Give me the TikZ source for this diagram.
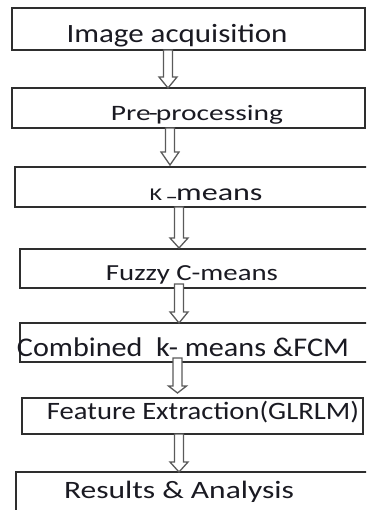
\documentclass[tikz,border=0pt]{standalone}
\usepackage{fontspec}
\usepackage{graphicx}
\setmainfont{Carlito}
\usetikzlibrary{calc,fit}
\definecolor{txt}{HTML}{1A1A22}
\definecolor{boxline}{HTML}{2E2E2E}
\definecolor{arrline}{HTML}{5A5A5A}
\tikzset{
  stagebox/.style={draw=boxline, line width=1.1pt, fill=white, inner sep=0pt, outer sep=0pt},
  stagetext/.style={anchor=base, inner sep=0pt, text=txt},
  blockarrow/.style={draw=arrline, line width=1.3pt, fill=white, line join=miter}
}
% #1 x, #2 top, #3 head start, #4 tip
\newcommand{\blockarr}[4]{%
  \draw[blockarrow] (#1-4.5,#2) -- (#1+4.5,#2) -- (#1+4.5,#3) -- (#1+9,#3) -- (#1,#4)
     -- (#1-9,#3) -- (#1-4.5,#3) -- cycle;}
\newcommand{\fitw}[3]{\resizebox{#2pt}{\height}{\fontsize{#1}{#1}\selectfont #3}}
\begin{document}
\begin{tikzpicture}[x=1pt,y=-1pt]
\useasboundingbox (0,0) rectangle (366,510);
\clip (0,0) rectangle (366,510);
\fill[white] (0,0) rectangle (366,510);
% boxes
\node[stagebox, fit={(12,8) (365,50)}] (b1) {};
\node[stagebox, fit={(12,88) (365,128)}] (b2) {};
\node[stagebox, fit={(15,167) (372,207)}] (b3) {};
\node[stagebox, fit={(20,249) (372,288)}] (b4) {};
\node[stagebox, fit={(20,323) (372,362)}] (b5) {};
\node[stagebox, fit={(22,398) (363,434)}] (b6) {};
\node[stagebox, fit={(16,472) (372,516)}] (b7) {};
% arrows between boxes
\blockarr{168}{50}{77}{88}
\blockarr{170}{128}{152}{165}
\blockarr{179}{207}{238}{248}
\blockarr{179}{284}{312}{323}
\blockarr{177.5}{358}{386}{393}
\blockarr{179}{434}{462}{472}
% texts
\node[stagetext] (t1) at (177,43) {\fitw{26.4}{221}{Image acquisition}};
\node[stagetext] (t2) at (197,120.5) {\fitw{22}{172}{Pre\kern-1.5pt-\kern-1.5pt processing}};
\node[stagetext] (t3) at (206,200.5) {\fitw{24}{113}{{\fontsize{18}{18}\selectfont K}\,\raisebox{5pt}{\scalebox{0.55}[1]{\_}}means}};
\node[stagetext] (t4) at (192,280) {\fitw{23}{172}{Fuzzy C-means}};
\node[stagetext] (t5) at (183,356) {\fitw{27}{332}{Combined\ \ k- means \&FCM}};
\node[stagetext] (t6) at (203,419) {\fitw{25}{312}{Feature Extraction(GLRLM)}};
\node[stagetext] (t7) at (179,498) {\fitw{25}{230}{Results \& Analysis}};
\end{tikzpicture}
\end{document}
